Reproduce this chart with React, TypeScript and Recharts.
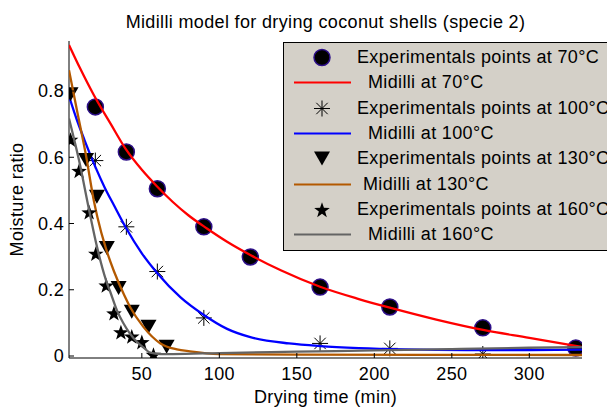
import React from 'react';
import { ComposedChart, Line, Scatter, XAxis, YAxis, Legend } from 'recharts';

const FONT = '"Liberation Sans", Arial, Helvetica, sans-serif';

const time70 = [20, 40, 60, 90, 120, 165, 210, 270, 330];
const mr70 = [0.752, 0.616, 0.505, 0.39, 0.299, 0.208, 0.148, 0.085, 0.024];
const time100 = [20, 40, 60, 90, 165, 210, 270];
const mr100 = [0.59, 0.39, 0.255, 0.115, 0.038, 0.023, 0.006];
const time130 = [4, 14, 21, 27.4, 35, 43.5, 54.3, 66];
const mr130 = [0.79, 0.592, 0.481, 0.326, 0.205, 0.134, 0.088, 0.028];
const time160 = [4, 9.5, 16, 20.3, 27, 32, 36.5, 43.5, 50, 57.5];
const mr160 = [0.654, 0.56, 0.435, 0.31, 0.214, 0.13, 0.073, 0.06, 0.043, 0.005];

// Midilli fitted curves, sampled along the drawn lines
const fitTime70 = [3, 10, 19, 30, 40, 50, 60, 70, 80, 92, 105, 120, 140, 165, 190, 210, 240, 271, 300, 334];
const fitMr70 = [0.939, 0.87, 0.788, 0.7, 0.622, 0.562, 0.511, 0.465, 0.425, 0.385, 0.345, 0.305, 0.258, 0.209, 0.172, 0.146, 0.11, 0.078, 0.055, 0.027];
const fitTime100 = [3, 8, 13, 20, 26, 32, 40, 50, 60, 75, 90, 105, 120, 145, 165, 190, 220, 260, 300, 334];
const fitMr100 = [0.785, 0.714, 0.652, 0.571, 0.509, 0.455, 0.385, 0.31, 0.25, 0.177, 0.124, 0.082, 0.057, 0.038, 0.03, 0.024, 0.02, 0.018, 0.018, 0.019];
const fitTime130 = [3, 8, 13.8, 19.2, 21.3, 26.8, 32, 38.6, 42.4, 51, 62, 72.6, 81, 100, 150, 334];
const fitMr130 = [0.863, 0.745, 0.61, 0.465, 0.42, 0.325, 0.256, 0.184, 0.148, 0.088, 0.038, 0.02, 0.014, 0.006, 0.004, 0.003];
const fitTime160 = [3, 9.5, 16, 21.3, 26.8, 29.6, 34, 38.1, 42, 46.8, 51, 55.4, 62, 70, 100, 150, 200, 250, 300, 334];
const fitMr160 = [0.717, 0.59, 0.44, 0.325, 0.23, 0.194, 0.137, 0.099, 0.07, 0.043, 0.026, 0.01, 0.006, 0.006, 0.009, 0.013, 0.017, 0.021, 0.025, 0.027];

const temps = ['70°C', '100°C', '130°C', '160°C'];
const xTicks = [50, 100, 150, 200, 250, 300];
const yTicks = [0, 0.2, 0.4, 0.6, 0.8];
const X_DOMAIN: [number, number] = [3, 334];
const Y_DOMAIN: [number, number] = [-0.006, 0.951];

type Mark = 'circle' | 'asterisk' | 'triangle' | 'star';

const toPoints = (xs: number[], ys: number[]) => xs.map((x, i) => ({ x, y: ys[i] }));

const runs = [
  { temp: temps[0], points: toPoints(time70, mr70), fit: toPoints(fitTime70, fitMr70), mark: 'circle' as Mark, color: '#ff0000' },
  { temp: temps[1], points: toPoints(time100, mr100), fit: toPoints(fitTime100, fitMr100), mark: 'asterisk' as Mark, color: '#0000ff' },
  { temp: temps[2], points: toPoints(time130, mr130), fit: toPoints(fitTime130, fitMr130), mark: 'triangle' as Mark, color: '#b35900' },
  { temp: temps[3], points: toPoints(time160, mr160), fit: toPoints(fitTime160, fitMr160), mark: 'star' as Mark, color: '#646464' },
];

// the Midilli labels sit a little right of the marker labels in the original
const MIDILLI_INDENT = [11, 11, 6, 11];

function Marker({ kind, cx, cy }: { kind: Mark; cx: number; cy: number }) {
  if (kind === 'circle') {
    return <circle cx={cx} cy={cy} r={8} fill="#000" stroke="#2d0f88" strokeWidth={1.5} />;
  }
  if (kind === 'asterisk') {
    const d = 5.7;
    return (
      <path
        d={`M${cx - 8},${cy}H${cx + 8}M${cx},${cy - 8}V${cy + 8}M${cx - d},${cy - d}L${cx + d},${cy + d}M${cx - d},${cy + d}L${cx + d},${cy - d}`}
        stroke="#000"
        strokeWidth={1}
        fill="none"
      />
    );
  }
  if (kind === 'triangle') {
    return <polygon points={`${cx - 8},${cy - 7} ${cx + 8},${cy - 7} ${cx},${cy + 7}`} fill="#000" />;
  }
  const pts: string[] = [];
  for (let i = 0; i < 10; i++) {
    const r = i % 2 === 0 ? 8.2 : 3.3;
    const a = -Math.PI / 2 + (i * Math.PI) / 5;
    pts.push(`${cx + r * Math.cos(a)},${cy + r * Math.sin(a) + 1}`);
  }
  return <polygon points={pts.join(' ')} fill="#000" />;
}

const fmtY = (v: number) => (v === 0 ? '0' : v.toFixed(1));

function LeftTick({ x, y, payload }: any) {
  return (
    <g>
      <line x1={x} y1={y} x2={x + 5} y2={y} stroke="#000" />
      <text x={x - 5} y={y} dy="0.36em" textAnchor="end" fontSize={18} fill="#000" style={{ letterSpacing: 0.35 }}>
        {fmtY(payload.value)}
      </text>
    </g>
  );
}

function RightTick({ x, y }: any) {
  return <line x1={x - 5} y1={y} x2={x} y2={y} stroke="#000" />;
}

function BottomTick({ x, y, payload }: any) {
  return (
    <g>
      <line x1={x} y1={y} x2={x} y2={y - 5} stroke="#000" />
      <text x={x} y={y + 22} textAnchor="middle" fontSize={18} fill="#000" style={{ letterSpacing: 0.35 }}>
        {payload.value}
      </text>
    </g>
  );
}

function TopTick({ x, y }: any) {
  return <line x1={x} y1={y} x2={x} y2={y + 5} stroke="#000" />;
}

function XLabel({ viewBox }: any) {
  const cx = viewBox.x + viewBox.width / 2;
  return (
    <text x={cx} y={viewBox.y + 45} textAnchor="middle" fontSize={18} fill="#000" style={{ letterSpacing: 0.35 }}>
      Drying time (min)
    </text>
  );
}

function YLabel({ viewBox }: any) {
  const x = viewBox.x + 23;
  const y = viewBox.y + viewBox.height / 2;
  return (
    <text x={x} y={y} transform={`rotate(-90 ${x} ${y})`} textAnchor="middle" fontSize={18} fill="#000" style={{ letterSpacing: 0.35 }}>
      Moisture ratio
    </text>
  );
}

function LegendBox() {
  const rows: { label: string; mark?: Mark; color?: string; indent: number }[] = [];
  runs.forEach((r, i) => {
    rows.push({ label: `Experimentals points at ${r.temp}`, mark: r.mark, indent: 0 });
    rows.push({ label: `Midilli at ${r.temp}`, color: r.color, indent: MIDILLI_INDENT[i] });
  });
  return (
    <div
      style={{
        background: '#d4d0c8',
        border: '1px solid #000',
        width: 360,
        padding: '2px 0 3px 0',
        fontFamily: FONT,
        fontSize: 18,
        letterSpacing: 0.35,
        color: '#000',
      }}
    >
      {rows.map((row) => (
        <div key={row.label} style={{ display: 'flex', alignItems: 'center', height: 25.3 }}>
          <svg width={73} height={25} style={{ flex: 'none' }}>
            {row.mark ? (
              <Marker kind={row.mark} cx={38} cy={12.5} />
            ) : (
              <line x1={10} y1={12.5} x2={67} y2={12.5} stroke={row.color} strokeWidth={2.2} />
            )}
          </svg>
          <span style={{ paddingLeft: row.indent, whiteSpace: 'nowrap', lineHeight: '25px' }}>{row.label}</span>
        </div>
      ))}
    </div>
  );
}

export default function App() {
  return (
    <div style={{ position: 'absolute', left: 0, top: 0, width: 607, height: 408, overflow: 'hidden', background: '#fff', fontFamily: FONT }}>
      <div
        style={{
          position: 'absolute',
          top: 13,
          left: 69,
          width: 513,
          textAlign: 'center',
          fontSize: 18,
          lineHeight: '18px',
          letterSpacing: 0.35,
          color: '#000',
          zIndex: 2,
        }}
      >
        Midilli model for drying coconut shells (specie 2)
      </div>
      <ComposedChart width={607} height={408} margin={{ top: 41, right: 25, bottom: 0, left: 0 }} style={{ fontFamily: FONT }}>
        <XAxis
          dataKey="x"
          type="number"
          domain={X_DOMAIN}
          ticks={xTicks}
          allowDataOverflow
          height={50}
          tickSize={0}
          tickMargin={0}
          tick={<BottomTick />}
          axisLine={{ stroke: '#000' }}
          tickLine={false}
          label={{ content: <XLabel /> }}
        />
        <XAxis
          xAxisId="top"
          orientation="top"
          type="number"
          domain={X_DOMAIN}
          ticks={xTicks}
          allowDataOverflow
          height={0}
          tickSize={0}
          tickMargin={0}
          tick={<TopTick />}
          axisLine={{ stroke: '#000' }}
          tickLine={false}
        />
        <YAxis
          dataKey="y"
          type="number"
          domain={Y_DOMAIN}
          ticks={yTicks}
          allowDataOverflow
          width={69}
          tickSize={0}
          tickMargin={0}
          tick={<LeftTick />}
          axisLine={{ stroke: '#000' }}
          tickLine={false}
          label={{ content: <YLabel /> }}
        />
        <YAxis
          yAxisId="right"
          orientation="right"
          type="number"
          domain={Y_DOMAIN}
          ticks={yTicks}
          allowDataOverflow
          width={0}
          tickSize={0}
          tickMargin={0}
          tick={<RightTick />}
          axisLine={{ stroke: '#000' }}
          tickLine={false}
        />
        {runs.flatMap((r, i) => [
          <Scatter
            key={`pts-${r.temp}`}
            name={`Experimentals points at ${r.temp}`}
            data={r.points}
            dataKey="y"
            zIndex={600 + i * 2}
            isAnimationActive={false}
            shape={(p: any) => <Marker kind={r.mark} cx={p.cx} cy={p.cy} />}
          />,
          <Line
            key={`fit-${r.temp}`}
            name={`Midilli at ${r.temp}`}
            data={r.fit}
            dataKey="y"
            type="monotone"
            stroke={r.color}
            strokeWidth={2.3}
            dot={false}
            activeDot={false}
            zIndex={601 + i * 2}
            isAnimationActive={false}
          />,
        ])}
        <Legend
          layout="horizontal"
          verticalAlign="middle"
          align="center"
          content={() => <LegendBox />}
          wrapperStyle={{ left: 283, top: 42, width: 360 }}
        />
      </ComposedChart>
    </div>
  );
}
